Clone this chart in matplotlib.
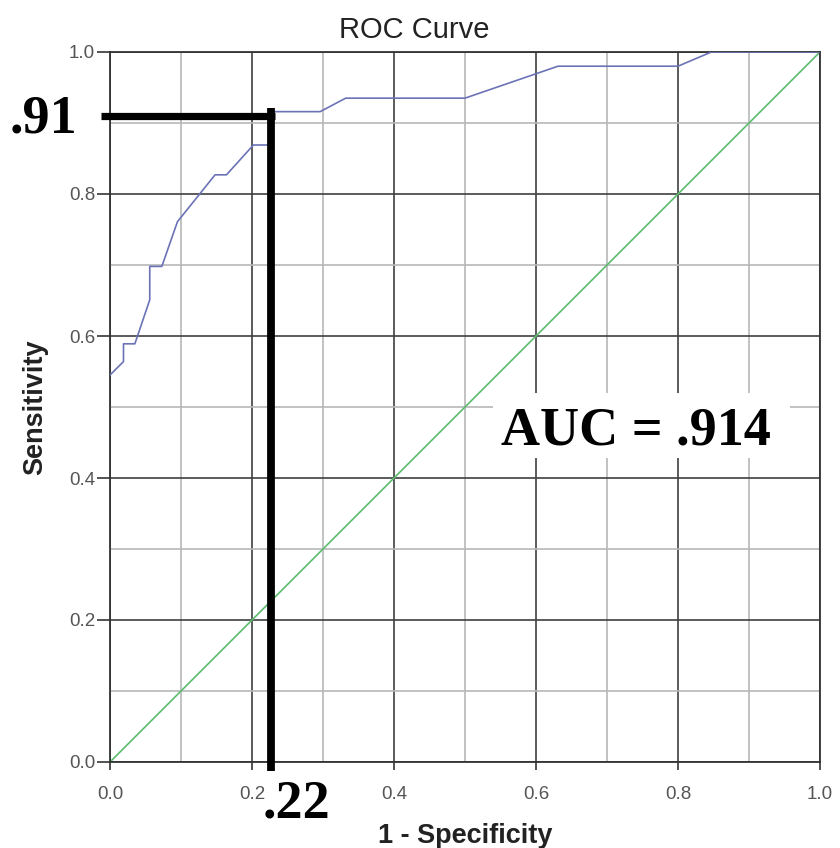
import matplotlib
matplotlib.use("Agg")
import matplotlib.pyplot as plt
from matplotlib.patches import Rectangle
from matplotlib.ticker import MultipleLocator

# ---- data ----
fpr = [0.0, 0.019, 0.019, 0.035, 0.056, 0.056, 0.073, 0.095, 0.148, 0.164,
       0.202, 0.225, 0.225, 0.296, 0.332, 0.50, 0.631, 0.80, 0.847, 1.0]
tpr = [0.545, 0.564, 0.589, 0.589, 0.651, 0.698, 0.698, 0.761, 0.827, 0.827,
       0.869, 0.869, 0.916, 0.916, 0.935, 0.935, 0.980, 0.980, 1.0, 1.0]
ref_x = [0.0, 1.0]
ref_y = [0.0, 1.0]
cut_fpr = 0.227
cut_tpr = 0.91
cut_fpr_label = ".22"
cut_tpr_label = ".91"
auc_label = "AUC = .914"
ticks = [0.0, 0.2, 0.4, 0.6, 0.8, 1.0]
tick_labels = ["0.0", "0.2", "0.4", "0.6", "0.8", "1.0"]

W, H = 840, 848
fig = plt.figure(figsize=(W / 100, H / 100), dpi=100)
ax = fig.add_axes([110 / W, 1 - 762 / H, 710 / W, 710 / H])
ax.set_xlim(0, 1)
ax.set_ylim(0, 1)

# grid
ax.xaxis.set_minor_locator(MultipleLocator(0.1))
ax.yaxis.set_minor_locator(MultipleLocator(0.1))
ax.grid(which="minor", color="#b8b8b8", linewidth=1.2, zorder=0)
ax.grid(which="major", color="#404040", linewidth=1.2, zorder=0)
ax.set_axisbelow(True)
for s in ax.spines.values():
    s.set_color("#333333")
    s.set_linewidth(1.3)

ax.set_xticks(ticks)
ax.set_xticklabels(tick_labels)
ax.set_yticks(ticks)
ax.set_yticklabels(tick_labels)
ax.tick_params(which="minor", length=0)
ax.tick_params(axis="x", which="major", length=6, width=1.2, color="#333333",
               pad=11.5, labelsize=13.5, labelcolor="#555555")
ax.tick_params(axis="y", which="major", length=9.5, width=1.2, color="#333333",
               pad=1.2, labelsize=13.5, labelcolor="#555555")
for lab in ax.get_xticklabels() + ax.get_yticklabels():
    lab.set_family("Liberation Sans")

# curves
ax.plot(ref_x, ref_y, color="#5cbd6c", linewidth=1.2, zorder=2)
ax.plot(fpr, tpr, color="#6b73b6", linewidth=1.2, zorder=3)

# cutoff markers
ax.plot([-0.012, cut_fpr + 0.006], [cut_tpr, cut_tpr], color="black",
        linewidth=5.2, solid_capstyle="butt", clip_on=False, zorder=5)
ax.plot([cut_fpr, cut_fpr], [cut_tpr + 0.011, -0.012], color="black",
        linewidth=5.6, solid_capstyle="butt", clip_on=False, zorder=5)

serif = dict(family="Liberation Serif", weight="bold", size=39, color="black")
ax.text(-0.046, 0.886, cut_tpr_label, ha="right", va="baseline",
        clip_on=False, **serif)
ax.text(0.263, -0.0775, cut_fpr_label, ha="center", va="baseline",
        clip_on=False, **serif)

# AUC label on white box
ax.add_patch(Rectangle((0.539, 0.428), 0.419, 0.092, facecolor="white",
                       edgecolor="none", zorder=4))
ax.text(0.741, 0.4465, auc_label, ha="center", va="baseline", zorder=6,
        **serif)

# titles / labels
fig.text(414 / W, 1 - 38 / H, "ROC Curve", ha="center", va="baseline",
         family="Liberation Sans", size=21, color="#222222")
fig.text(465 / W, 1 - 843 / H, "1 - Specificity", ha="center", va="baseline",
         family="Liberation Sans", weight="bold", size=19.5, color="#222222")
fig.text(35 / W, 1 - 407 / H, "Sensitivity", ha="center", va="center",
         rotation=90, family="Liberation Sans", weight="bold", size=19.5,
         color="#222222")

fig.savefig("out.png", dpi=100)
